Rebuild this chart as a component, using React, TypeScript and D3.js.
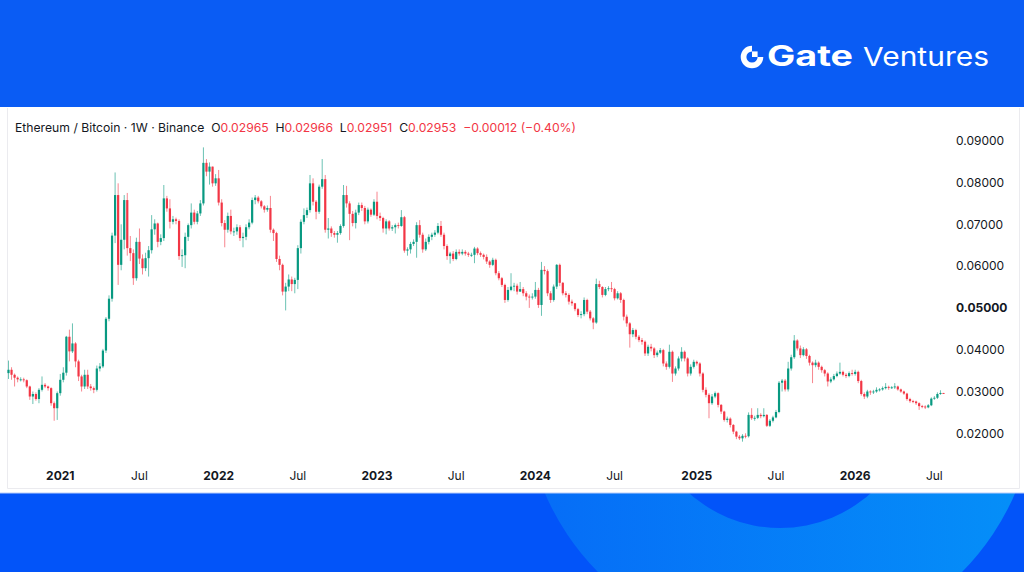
import * as d3 from 'd3'

// weekly ETH/BTC candles, first week starts Mon 2020-09-07
const firstWeek = '2020-09-07'
const firstOpen = 0.0344

const closes = [
  // 2020-09 .. 2021-08
  0.0352, 0.0340, 0.0333, 0.0329, 0.0329, 0.0327, 0.0312, 0.0288, 0.0294, 0.0282,
  0.0304, 0.0316, 0.0312, 0.0308, 0.0272, 0.0260, 0.0296, 0.0328, 0.0345, 0.0431,
  0.0396, 0.0415, 0.0372, 0.0336, 0.0312, 0.0340, 0.0312, 0.0308, 0.0304, 0.0355,
  0.0360, 0.0398, 0.0474, 0.0522, 0.0673, 0.0770, 0.0603, 0.0663, 0.0758, 0.0643,
  0.0631, 0.0571, 0.0658, 0.0618, 0.0595, 0.0619, 0.0638, 0.0688, 0.0702, 0.0658,
  // 2021-08 .. 2022-08
  0.0667, 0.0762, 0.0738, 0.0706, 0.0712, 0.0708, 0.0624, 0.0626, 0.0670, 0.0698,
  0.0728, 0.0706, 0.0726, 0.0750, 0.0847, 0.0826, 0.0838, 0.0798, 0.0810, 0.0752,
  0.0703, 0.0687, 0.0720, 0.0683, 0.0683, 0.0693, 0.0667, 0.0670, 0.0693, 0.0704,
  0.0758, 0.0764, 0.0755, 0.0743, 0.0735, 0.0739, 0.0687, 0.0679, 0.0617, 0.0603,
  0.0539, 0.0551, 0.0568, 0.0557, 0.0567, 0.0643, 0.0706, 0.0722, 0.0734,
  // 2022-08 .. 2023-08
  0.0798, 0.0754, 0.0730, 0.0790, 0.0808, 0.0687, 0.0690, 0.0679, 0.0675, 0.0679,
  0.0696, 0.0770, 0.0750, 0.0725, 0.0703, 0.0728, 0.0746, 0.0739, 0.0707, 0.0735,
  0.0723, 0.0754, 0.0720, 0.0715, 0.0690, 0.0707, 0.0690, 0.0693, 0.0698, 0.0696,
  0.0717, 0.0637, 0.0640, 0.0653, 0.0658, 0.0698, 0.0675, 0.0640, 0.0658, 0.0670,
  0.0675, 0.0680, 0.0696, 0.0675, 0.0648, 0.0624, 0.0630, 0.0617, 0.0634, 0.0630,
  0.0634, 0.0630,
  // 2023-08 .. 2024-08
  0.0627, 0.0627, 0.0642, 0.0631, 0.0627, 0.0622, 0.0611, 0.0603, 0.0615,
  0.0583, 0.0571, 0.0555, 0.0519, 0.0543, 0.0551, 0.0553, 0.0539, 0.0545, 0.0535,
  0.0527, 0.0525, 0.0527, 0.0543, 0.0507, 0.0591, 0.0588, 0.0535,
  0.0519, 0.0551, 0.0603, 0.0560, 0.0535, 0.0531, 0.0515, 0.0511, 0.0497, 0.0483, 0.0485,
  0.0519, 0.0491, 0.0475, 0.0465, 0.0557, 0.0550, 0.0531, 0.0545, 0.0547, 0.0545,
  0.0523, 0.0535, 0.0519, 0.0479, 0.0463, 0.0437,
  // 2024-08 .. 2025-08
  0.0447, 0.0431, 0.0423, 0.0419, 0.0391, 0.0407, 0.0403, 0.0387, 0.0393, 0.0399,
  0.0367, 0.0359, 0.0395, 0.0343, 0.0355, 0.0379, 0.0395, 0.0379, 0.0343, 0.0359,
  0.0371, 0.0367, 0.0343, 0.0304,
  0.0292, 0.0272, 0.0288, 0.0296, 0.0268, 0.0252, 0.0232, 0.0235, 0.0220,
  0.0204, 0.0192, 0.0188, 0.0194, 0.0193, 0.0244, 0.0236, 0.0237, 0.0244, 0.0241,
  0.0244, 0.0218, 0.0230, 0.0238, 0.0251, 0.0321, 0.0326, 0.0305, 0.0355,
  // 2025-08 .. 2026-07
  0.0382, 0.0422, 0.0403, 0.0387, 0.0401, 0.0385, 0.0369,
  0.0363, 0.0369, 0.0359, 0.0351, 0.0343, 0.0324, 0.0329, 0.0337, 0.0343, 0.0347,
  0.0340, 0.0337, 0.0344, 0.0342, 0.0347, 0.0325, 0.0294, 0.0288, 0.0300, 0.0298,
  0.0300, 0.0304, 0.0305, 0.0308, 0.0311, 0.0309, 0.0310, 0.0312, 0.0305, 0.0300,
  0.0295, 0.0282, 0.0277, 0.0276, 0.0272, 0.0265, 0.0264, 0.0262, 0.0267, 0.0283,
  0.0285, 0.0294, 0.02965, 0.02953,
]

const highs = [
  0.0374, 0.0358, 0.0343, 0.0336, 0.0334, 0.0333, 0.0329, 0.0314, 0.0300, 0.0298,
  0.0308, 0.0336, 0.0320, 0.0314, 0.0310, 0.0276, 0.0300, 0.0342, 0.0358, 0.0433,
  0.0448, 0.0463, 0.0418, 0.0376, 0.0340, 0.0352, 0.0352, 0.0318, 0.0312, 0.0362,
  0.0368, 0.0402, 0.0478, 0.0530, 0.0680, 0.0824, 0.0798, 0.0700, 0.0770, 0.0775,
  0.0672, 0.0640, 0.0668, 0.0690, 0.0628, 0.0632, 0.0648, 0.0722, 0.0712, 0.0704,
  0.0676, 0.0794, 0.0768, 0.0760, 0.0720, 0.0716, 0.0712, 0.0640, 0.0680, 0.0702,
  0.0750, 0.0735, 0.0732, 0.0758, 0.0884, 0.0856, 0.0848, 0.0838, 0.0820, 0.0830,
  0.0760, 0.0710, 0.0728, 0.0735, 0.0692, 0.0700, 0.0698, 0.0680, 0.0700, 0.0712,
  0.0764, 0.0770, 0.0768, 0.0758, 0.0746, 0.0745, 0.0768, 0.0690, 0.0682, 0.0625,
  0.0606, 0.0560, 0.0580, 0.0575, 0.0572, 0.0650, 0.0712, 0.0738, 0.0740,
  0.0818, 0.0810, 0.0758, 0.0795, 0.0856, 0.0818, 0.0715, 0.0695, 0.0684, 0.0684,
  0.0700, 0.0794, 0.0792, 0.0755, 0.0732, 0.0735, 0.0752, 0.0752, 0.0744, 0.0740,
  0.0738, 0.0760, 0.0778, 0.0728, 0.0718, 0.0712, 0.0710, 0.0698, 0.0702, 0.0704,
  0.0734, 0.0720, 0.0645, 0.0658, 0.0664, 0.0705, 0.0710, 0.0680, 0.0666, 0.0676,
  0.0680, 0.0686, 0.0703, 0.0708, 0.0680, 0.0652, 0.0634, 0.0636, 0.0640, 0.0640,
  0.0640, 0.0638,
  0.0634, 0.0632, 0.0646, 0.0645, 0.0635, 0.0630, 0.0628, 0.0614, 0.0620,
  0.0618, 0.0588, 0.0574, 0.0558, 0.0550, 0.0583, 0.0560, 0.0558, 0.0562, 0.0550,
  0.0540, 0.0532, 0.0535, 0.0562, 0.0548, 0.0610, 0.0600, 0.0592,
  0.0540, 0.0556, 0.0605, 0.0606, 0.0562, 0.0540, 0.0535, 0.0520, 0.0512, 0.0500, 0.0492,
  0.0525, 0.0522, 0.0495, 0.0478, 0.0570, 0.0565, 0.0552, 0.0550, 0.0552, 0.0562,
  0.0548, 0.0540, 0.0538, 0.0522, 0.0484, 0.0466,
  0.0452, 0.0450, 0.0435, 0.0428, 0.0422, 0.0412, 0.0414, 0.0406, 0.0398, 0.0404,
  0.0402, 0.0372, 0.0412, 0.0398, 0.0360, 0.0384, 0.0406, 0.0398, 0.0382, 0.0365,
  0.0376, 0.0374, 0.0370, 0.0346,
  0.0310, 0.0296, 0.0294, 0.0300, 0.0298, 0.0270, 0.0254, 0.0240, 0.0238,
  0.0222, 0.0206, 0.0196, 0.0198, 0.0200, 0.0250, 0.0260, 0.0242, 0.0260, 0.0248,
  0.0260, 0.0246, 0.0234, 0.0242, 0.0256, 0.0325, 0.0330, 0.0330, 0.0371,
  0.0388, 0.0435, 0.0425, 0.0410, 0.0406, 0.0404, 0.0388,
  0.0372, 0.0376, 0.0372, 0.0362, 0.0354, 0.0346, 0.0334, 0.0342, 0.0348, 0.0369,
  0.0350, 0.0344, 0.0348, 0.0352, 0.0352, 0.0350, 0.0328, 0.0298, 0.0304, 0.0303,
  0.0304, 0.0310, 0.0308, 0.0312, 0.0320, 0.0314, 0.0313, 0.0320, 0.0314, 0.0307,
  0.0302, 0.0297, 0.0285, 0.0280, 0.0278, 0.0274, 0.0268, 0.0267, 0.0270, 0.0286,
  0.0289, 0.0298, 0.0303, 0.02966,
]

const lows = [
  0.0330, 0.0328, 0.0312, 0.0322, 0.0324, 0.0322, 0.0308, 0.0280, 0.0270, 0.0278,
  0.0272, 0.0300, 0.0308, 0.0302, 0.0266, 0.0230, 0.0232, 0.0290, 0.0322, 0.0338,
  0.0372, 0.0392, 0.0358, 0.0325, 0.0300, 0.0306, 0.0306, 0.0302, 0.0296, 0.0300,
  0.0348, 0.0356, 0.0392, 0.0468, 0.0515, 0.0655, 0.0555, 0.0590, 0.0640, 0.0625,
  0.0612, 0.0555, 0.0565, 0.0605, 0.0580, 0.0588, 0.0575, 0.0630, 0.0675, 0.0645,
  0.0650, 0.0660, 0.0730, 0.0690, 0.0700, 0.0700, 0.0615, 0.0598, 0.0595, 0.0660,
  0.0690, 0.0700, 0.0700, 0.0720, 0.0745, 0.0815, 0.0795, 0.0790, 0.0792, 0.0745,
  0.0695, 0.0645, 0.0680, 0.0676, 0.0672, 0.0675, 0.0660, 0.0645, 0.0662, 0.0688,
  0.0700, 0.0748, 0.0750, 0.0738, 0.0728, 0.0730, 0.0680, 0.0660, 0.0610, 0.0590,
  0.0530, 0.0494, 0.0540, 0.0540, 0.0535, 0.0545, 0.0630, 0.0700, 0.0715,
  0.0728, 0.0745, 0.0712, 0.0725, 0.0785, 0.0680, 0.0666, 0.0670, 0.0668, 0.0656,
  0.0675, 0.0692, 0.0740, 0.0662, 0.0695, 0.0690, 0.0722, 0.0732, 0.0700, 0.0702,
  0.0718, 0.0720, 0.0712, 0.0708, 0.0680, 0.0676, 0.0685, 0.0684, 0.0678, 0.0690,
  0.0694, 0.0632, 0.0625, 0.0630, 0.0648, 0.0620, 0.0668, 0.0632, 0.0636, 0.0652,
  0.0662, 0.0670, 0.0676, 0.0670, 0.0640, 0.0615, 0.0606, 0.0612, 0.0614, 0.0625,
  0.0626, 0.0625,
  0.0622, 0.0622, 0.0607, 0.0626, 0.0622, 0.0616, 0.0605, 0.0596, 0.0600,
  0.0578, 0.0566, 0.0550, 0.0512, 0.0515, 0.0540, 0.0540, 0.0532, 0.0538, 0.0528,
  0.0518, 0.0500, 0.0520, 0.0522, 0.0500, 0.0481, 0.0580, 0.0528,
  0.0512, 0.0515, 0.0545, 0.0552, 0.0530, 0.0525, 0.0508, 0.0505, 0.0492, 0.0478, 0.0475,
  0.0480, 0.0485, 0.0470, 0.0449, 0.0462, 0.0545, 0.0525, 0.0528, 0.0540, 0.0538,
  0.0518, 0.0520, 0.0512, 0.0470, 0.0455, 0.0405,
  0.0430, 0.0425, 0.0418, 0.0412, 0.0385, 0.0385, 0.0396, 0.0380, 0.0382, 0.0390,
  0.0360, 0.0352, 0.0355, 0.0323, 0.0338, 0.0350, 0.0372, 0.0372, 0.0336, 0.0338,
  0.0355, 0.0362, 0.0336, 0.0298,
  0.0286, 0.0236, 0.0268, 0.0284, 0.0262, 0.0246, 0.0228, 0.0226, 0.0214,
  0.0198, 0.0186, 0.0184, 0.0180, 0.0188, 0.0190, 0.0232, 0.0230, 0.0234, 0.0236,
  0.0238, 0.0215, 0.0215, 0.0226, 0.0236, 0.0248, 0.0300, 0.0300, 0.0300,
  0.0350, 0.0378, 0.0398, 0.0380, 0.0384, 0.0378, 0.0362,
  0.0320, 0.0358, 0.0352, 0.0345, 0.0336, 0.0312, 0.0320, 0.0326, 0.0334, 0.0340,
  0.0336, 0.0332, 0.0334, 0.0338, 0.0338, 0.0320, 0.0290, 0.0282, 0.0284, 0.0292,
  0.0294, 0.0297, 0.0300, 0.0302, 0.0305, 0.0304, 0.0306, 0.0306, 0.0302, 0.0297,
  0.0292, 0.0278, 0.0273, 0.0272, 0.0268, 0.0256, 0.0260, 0.0258, 0.0260, 0.0265,
  0.0280, 0.0282, 0.0292, 0.02951,
]

const priceTicks = [0.02, 0.03, 0.04, 0.05, 0.06, 0.07, 0.08, 0.09]
const boldPrice = 0.05

const timeTicks: [string, string][] = [
  ['2021-01-04', '2021'], ['2021-07-05', 'Jul'],
  ['2022-01-03', '2022'], ['2022-07-04', 'Jul'],
  ['2023-01-02', '2023'], ['2023-07-03', 'Jul'],
  ['2024-01-01', '2024'], ['2024-07-01', 'Jul'],
  ['2025-01-06', '2025'], ['2025-07-07', 'Jul'],
  ['2026-01-05', '2026'], ['2026-07-06', 'Jul'],
]

const legendTitle = 'Ethereum / Bitcoin · 1W · Binance'
const legendKeys = ['O', 'H', 'L', 'C']
const legendValues = ['0.02965', '0.02966', '0.02951', '0.02953']
const legendChange = '−0.00012 (−0.40%)'

const UP = '#089981'
const DOWN = '#f23645'
const INK = '#131722'
const FONT = 'Inter, Roboto, "Noto Sans", sans-serif'
const GAP = '\u00a0\u00a0'

export default function App() {
  const W = 1024
  const H = 572
  const start = new Date(firstWeek + 'T00:00:00Z')

  const candles = closes.map((c, i) => ({
    date: d3.utcWeek.offset(start, i),
    open: i === 0 ? firstOpen : closes[i - 1],
    close: c,
    high: highs[i],
    low: lows[i],
  }))

  const x = d3
    .scaleUtc()
    .domain([candles[0].date, candles[candles.length - 1].date])
    .range([8.5, 943.5])
  const y = d3.scaleLinear().domain([0.02, 0.09]).range([433.3, 140.7])

  const ring = d3.arc()({ innerRadius: 136, outerRadius: 256, startAngle: 0, endAngle: Math.PI * 2 }) as string
  const icon = d3.arc()({ innerRadius: 5.6, outerRadius: 11.3, startAngle: Math.PI / 2, endAngle: Math.PI * 2 }) as string

  return (
    <div style={{ position: 'absolute', left: 0, top: 0, width: W, height: H }}>
      <svg width={W} height={H} viewBox={`0 0 ${W} ${H}`} style={{ display: 'block', fontFamily: FONT }}>
        <defs>
          <linearGradient id="ringGrad" x1="0" x2="1" y1="0" y2="0">
            <stop offset="0%" stopColor="#066cf7" />
            <stop offset="100%" stopColor="#0590f8" />
          </linearGradient>
        </defs>

        {/* background bands */}
        <rect x={0} y={0} width={W} height={H} fill="#0254f9" />
        <rect x={0} y={0} width={W} height={108} fill="#0a5cf4" />
        <path d={ring} transform="translate(780,392)" fill="url(#ringGrad)" />

        {/* logo */}
        <g fill="#fff">
          <path d={icon} transform="translate(752,57)" />
          <rect x={752} y={51.4} width={5.6} height={5.6} />
          <text x={767} y={66} fontSize={28} fontWeight={700} textLength={86} lengthAdjust="spacingAndGlyphs">Gate</text>
          <text x={863} y={66} fontSize={26} fontWeight={400} textLength={126} lengthAdjust="spacingAndGlyphs">Ventures</text>
        </g>

        {/* white chart panel */}
        <rect x={0} y={107} width={W} height={386} fill="#fff" />
        <line x1={0} x2={W} y1={493} y2={493} stroke="#b9cdfa" strokeWidth={1} />
        <g stroke="#ebebef" strokeWidth={1} fill="none">
          <line x1={7.5} x2={7.5} y1={108} y2={488.5} />
          <line x1={7.5} x2={1019.5} y1={488.5} y2={488.5} />
          <line x1={1019.5} x2={1019.5} y1={108} y2={488.5} />
        </g>

        {/* legend: one line, tspans for colours */}
        <text x={15} y={132} fontSize={12} textLength={561} lengthAdjust="spacingAndGlyphs">
          <tspan fill={INK}>{legendTitle}</tspan>
          {legendKeys.map((k, i) => (
            <tspan key={k}>
              <tspan fill={INK}>{GAP + k}</tspan>
              <tspan fill={DOWN}>{legendValues[i]}</tspan>
            </tspan>
          ))}
          <tspan fill={DOWN}>{GAP + legendChange}</tspan>
        </text>

        {/* candles */}
        <g>
          {candles.map((d, i) => {
            const cx = x(d.date)
            const up = d.close >= d.open
            const col = up ? UP : DOWN
            const top = y(Math.max(d.open, d.close))
            const bot = y(Math.min(d.open, d.close))
            const hi = y(Math.max(d.high, d.open, d.close))
            const lo = y(Math.min(d.low, d.open, d.close))
            return (
              <g key={i}>
                <line x1={cx} x2={cx} y1={hi} y2={lo} stroke={col} strokeWidth={1} strokeOpacity={0.6} />
                <rect x={cx - 1.1} y={top} width={2.2} height={Math.max(0.9, bot - top)} fill={col} />
              </g>
            )
          })}
        </g>

        {/* price axis */}
        <g fontSize={12} fill={INK}>
          {priceTicks.map((p) => (
            <text key={p} x={956} y={y(p)} dy="0.35em" fontWeight={p === boldPrice ? 700 : 400}>
              {p.toFixed(5)}
            </text>
          ))}
        </g>

        {/* time axis */}
        <g fontSize={12} fill={INK} textAnchor="middle">
          {timeTicks.map(([d, label]) => (
            <text key={d} x={x(new Date(d + 'T00:00:00Z'))} y={480} fontWeight={label === 'Jul' ? 400 : 700}>
              {label}
            </text>
          ))}
        </g>
      </svg>
    </div>
  )
}
